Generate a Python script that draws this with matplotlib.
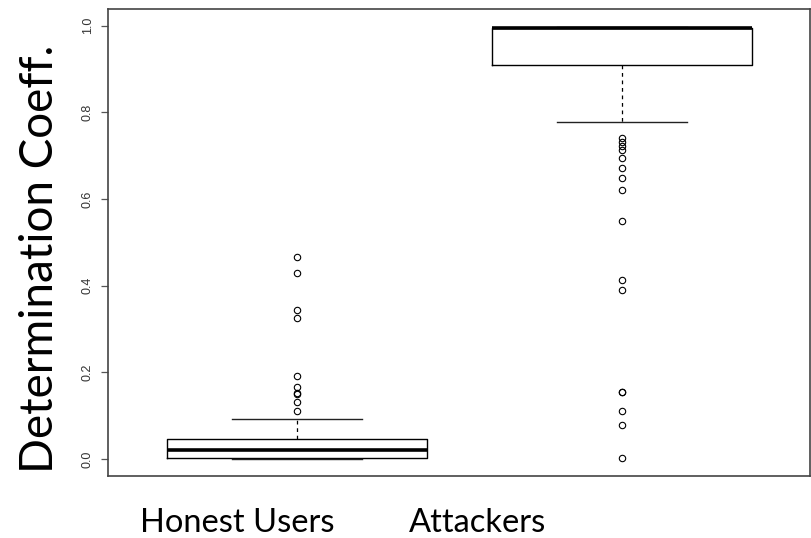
import matplotlib
matplotlib.use("Agg")
import matplotlib.pyplot as plt

# box statistics read per group
groups = ["Honest Users", "Attackers"]
whisker_low = [0.0, 0.778]
q1 = [0.0023, 0.909]
median = [0.021, 0.994]
q3 = [0.046, 0.995]
whisker_high = [0.092, 0.998]

honest_outliers = [0.4655, 0.4286, 0.344, 0.325, 0.192, 0.167, 0.153, 0.149, 0.132, 0.110]
attacker_outliers = [0.7415, 0.7316, 0.7224, 0.7131, 0.694, 0.672, 0.648, 0.622,
                     0.550, 0.413, 0.390, 0.155, 0.155, 0.111, 0.078, 0.0016]
outliers = [honest_outliers, attacker_outliers]

yticks = [0.0, 0.2, 0.4, 0.6, 0.8, 1.0]

stats = []
for i, name in enumerate(groups):
    stats.append({
        "label": name,
        "whislo": whisker_low[i],
        "q1": q1[i],
        "med": median[i],
        "q3": q3[i],
        "whishi": whisker_high[i],
        "fliers": outliers[i],
    })

fig = plt.figure(figsize=(8.12, 5.38), dpi=100)
ax = fig.add_axes([0.1326, 0.1152, 0.865, 0.868])

ax.bxp(stats, positions=[1, 2], widths=0.8, capwidths=0.4,
       boxprops=dict(color="black", linewidth=1.0),
       medianprops=dict(color="black", linewidth=2.6, solid_capstyle="butt"),
       whiskerprops=dict(color="black", linewidth=0.9, linestyle=(0, (3, 3))),
       capprops=dict(color="#222222", linewidth=1.0),
       flierprops=dict(marker="o", markersize=4.6, markerfacecolor="none",
                       markeredgecolor="black", markeredgewidth=0.8))

ax.set_xlim(0.4185, 2.579)
ax.set_ylim(-0.0392, 1.0385)
ax.set_xticks([])
ax.set_yticks(yticks)
ax.set_yticklabels([f"{v:.1f}" for v in yticks], rotation=90, va="center",
                   fontsize=9, family="Liberation Sans", color="#333333")
ax.tick_params(axis="y", length=5, width=0.9, color="#555555", pad=5)

for side in ax.spines.values():
    side.set_color("#444444")
    side.set_linewidth(1.2)

fig.text(0.2925, 0.012, "Honest Users", ha="center", va="baseline",
         fontsize=23.5, family="Lato")
fig.text(0.588, 0.012, "Attackers", ha="center", va="baseline",
         fontsize=23.5, family="Lato")
fig.text(0.049, 0.5186, "Determination Coeff.", ha="center", va="center",
         rotation=90, fontsize=33, family="Lato")

fig.savefig("out.png", dpi=100)
